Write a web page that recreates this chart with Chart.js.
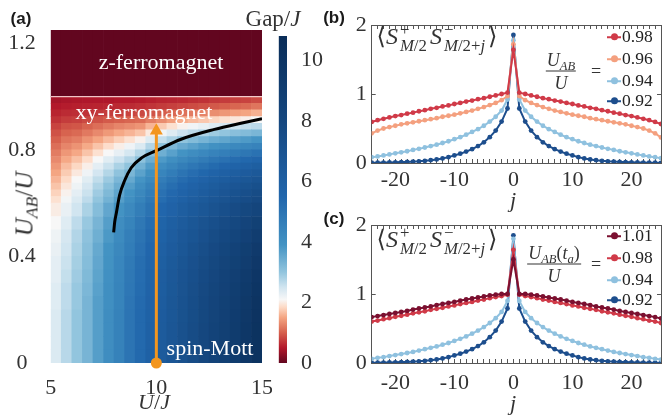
<!DOCTYPE html>
<html>
<head>
<meta charset="utf-8">
<title>Gap phase diagram and spin correlations</title>
<script src="https://cdn.jsdelivr.net/npm/chart.js@4.4.1/dist/chart.umd.min.js"></script>
<style>
  body { margin: 0; background: #fff; }
  #fig { position: relative; width: 672px; height: 418px; overflow: hidden;
         font-family: 'Liberation Serif', 'DejaVu Serif', serif; color: #333; }
  #fig canvas { position: absolute; }
  .lab { position: absolute; white-space: nowrap; line-height: 1; transform: translate(-50%, -50%); }
  .sb { font-size: 0.7em; position: relative; top: 0.3em; }
  .panel { font: bold 17px 'Liberation Sans', Arial, sans-serif; color: #1a1a1a; }
  .phase { color: #fff; font-size: 22px; }
  .stk { display: inline-flex; flex-direction: column; font-size: 0.7em; line-height: 0.95;
         vertical-align: 9px; margin: 0 3px 0 2px; }
  .frac { display: inline-flex; flex-direction: column; align-items: center; font-size: 18px; }
  .frac .num { border-bottom: 1px solid #333; padding: 0 1px 2px; }
  .frac .den { padding-top: 2px; }
  .leg { position: absolute; font-size: 17.5px; line-height: 1; color: #222; }
  .leg .row { position: absolute; left: 0; display: flex; align-items: center; transform: translateY(-50%); }
  .mk { position: relative; width: 14px; height: 2px; margin-right: 1px; }
  .mk::after { content: ''; position: absolute; left: 4px; top: -2.5px; width: 7px; height: 7px;
               border-radius: 50%; background: inherit; }
</style>
</head>
<body>
<div id="fig">
  <canvas id="heat" width="272" height="418" style="left:0;top:0"></canvas>
  <canvas id="cbar" width="60" height="418" style="left:272px;top:0"></canvas>
  <canvas id="corrB" width="342" height="210" style="left:330px;top:0"></canvas>
  <canvas id="corrC" width="342" height="208" style="left:330px;top:210px"></canvas>

  <div class="lab panel" style="left:21px;top:19px">(a)</div>
  <div class="lab panel" style="left:334px;top:18px">(b)</div>
  <div class="lab panel" style="left:334px;top:219px">(c)</div>

  <div class="lab" style="left:273px;top:18px;font-size:23px">Gap/<i>J</i></div>
  <div class="lab" style="left:24px;top:204px;font-size:25px;transform:translate(-50%,-50%) rotate(-90deg)"><i>U</i><span class="sb"><i>AB</i></span>/<i>U</i></div>
  <div class="lab" style="left:154px;top:402px;font-size:22px"><i>U</i>/<i>J</i></div>
  <div class="lab phase" style="left:161px;top:62px">z-ferromagnet</div>
  <div class="lab phase" style="left:144px;top:112px">xy-ferromagnet</div>
  <div class="lab phase" style="left:210px;top:348px">spin-Mott</div>

  <div class="lab" style="left:437px;top:38px;font-size:24px">⟨<i>S</i><span class="stk"><span>+</span><span><i>M</i>/2</span></span><i>S</i><span class="stk"><span>−</span><span><i>M</i>/2+<i>j</i></span></span>⟩</div>
  <div class="lab" style="left:561px;top:71px"><span class="frac"><span class="num"><i>U</i><span class="sb"><i>AB</i></span></span><span class="den"><i>U</i></span></span></div>
  <div class="lab" style="left:596px;top:71px;font-size:18px">=</div>
  <div class="lab" style="left:513px;top:200px;font-size:22px"><i>j</i></div>
  <div id="legB" class="leg" style="left:607px;top:0"></div>

  <div class="lab" style="left:437px;top:241px;font-size:24px">⟨<i>S</i><span class="stk"><span>+</span><span><i>M</i>/2</span></span><i>S</i><span class="stk"><span>−</span><span><i>M</i>/2+<i>j</i></span></span>⟩</div>
  <div class="lab" style="left:554px;top:264px"><span class="frac"><span class="num"><i>U</i><span class="sb"><i>AB</i></span>(<i>t</i><span class="sb"><i>a</i></span>)</span><span class="den"><i>U</i></span></span></div>
  <div class="lab" style="left:596px;top:264px;font-size:18px">=</div>
  <div class="lab" style="left:513px;top:403px;font-size:22px"><i>j</i></div>
  <div id="legC" class="leg" style="left:607px;top:210px"></div>
</div>

<script>
// ---------- panel (a): gap map ----------
// column centres in U/J and row edges in U_AB/U (finer rows where the gap closes)
const uOverJ = [5.25, 5.75, 6.25, 6.75, 7.25, 7.75, 8.25, 8.75, 9.25, 9.75,
                10.25, 10.75, 11.25, 11.75, 12.25, 12.75, 13.25, 13.75, 14.25, 14.75];
const uabEdges = [0, 0.05, 0.1, 0.15, 0.2, 0.25, 0.3, 0.35, 0.4, 0.45, 0.5, 0.55, 0.6,
                  0.625, 0.65, 0.675, 0.7, 0.725, 0.75, 0.775, 0.8, 0.825, 0.85, 0.875, 0.9, 0.925, 0.95, 0.975, 1.0];
const zFerroBand = [1.0, 1.25];
const zFerroGap = 0;

// Gap/J per column (bottom row first)
const gapCols = [
  [2.4, 2.4, 2.4, 2.4, 2.35, 2.35, 2.3, 2.3, 2.25, 2.2, 2.1, 2.0, 1.9, 1.8, 1.7, 1.6, 1.5, 1.4, 1.3, 1.2, 1.1, 1.0, 0.9, 0.8, 0.68, 0.58, 0.5, 0.42],
  [2.7, 2.7, 2.7, 2.7, 2.65, 2.65, 2.6, 2.55, 2.5, 2.45, 2.35, 2.25, 2.15, 2.05, 1.95, 1.85, 1.75, 1.65, 1.52, 1.4, 1.27, 1.15, 1.02, 0.9, 0.75, 0.63, 0.53, 0.45],
  [3.0, 3.0, 3.0, 3.0, 2.95, 2.95, 2.9, 2.85, 2.8, 2.75, 2.65, 2.5, 2.4, 2.3, 2.2, 2.1, 1.97, 1.83, 1.68, 1.52, 1.37, 1.22, 1.07, 0.93, 0.78, 0.65, 0.55, 0.47],
  [3.3, 3.3, 3.3, 3.3, 3.3, 3.25, 3.2, 3.15, 3.1, 3.05, 2.95, 2.8, 2.65, 2.55, 2.45, 2.33, 2.18, 2.02, 1.87, 1.7, 1.53, 1.36, 1.18, 1.02, 0.84, 0.68, 0.57, 0.48],
  [3.7, 3.7, 3.7, 3.7, 3.7, 3.65, 3.6, 3.55, 3.5, 3.4, 3.3, 3.15, 3.0, 2.9, 2.77, 2.63, 2.47, 2.3, 2.1, 1.9, 1.7, 1.5, 1.3, 1.1, 0.9, 0.72, 0.58, 0.48],
  [4.1, 4.1, 4.1, 4.1, 4.05, 4.05, 4.0, 3.95, 3.9, 3.8, 3.7, 3.55, 3.35, 3.22, 3.08, 2.92, 2.74, 2.55, 2.33, 2.1, 1.87, 1.64, 1.41, 1.19, 0.96, 0.75, 0.6, 0.48],
  [4.5, 4.5, 4.5, 4.5, 4.45, 4.45, 4.4, 4.35, 4.3, 4.2, 4.1, 3.9, 3.7, 3.58, 3.43, 3.25, 3.03, 2.8, 2.54, 2.27, 2.02, 1.77, 1.52, 1.27, 1.0, 0.78, 0.62, 0.5],
  [5.0, 5.0, 5.0, 5.0, 4.95, 4.9, 4.85, 4.8, 4.7, 4.6, 4.45, 4.25, 4.05, 3.9, 3.72, 3.5, 3.27, 3.02, 2.75, 2.46, 2.18, 1.9, 1.6, 1.32, 1.04, 0.8, 0.63, 0.5],
  [5.4, 5.4, 5.4, 5.4, 5.35, 5.3, 5.25, 5.2, 5.1, 5.0, 4.85, 4.65, 4.45, 4.3, 4.1, 3.88, 3.63, 3.36, 3.06, 2.74, 2.4, 2.05, 1.7, 1.38, 1.08, 0.84, 0.66, 0.52],
  [5.9, 5.9, 5.9, 5.85, 5.8, 5.75, 5.7, 5.6, 5.5, 5.4, 5.25, 5.05, 4.85, 4.7, 4.5, 4.27, 4.02, 3.74, 3.43, 3.1, 2.75, 2.37, 1.98, 1.6, 1.22, 0.92, 0.7, 0.55],
  [6.4, 6.4, 6.4, 6.35, 6.3, 6.25, 6.2, 6.1, 6.0, 5.85, 5.7, 5.5, 5.25, 5.1, 4.9, 4.67, 4.4, 4.1, 3.77, 3.4, 3.02, 2.6, 2.17, 1.74, 1.32, 0.98, 0.74, 0.58],
  [6.8, 6.8, 6.8, 6.75, 6.7, 6.65, 6.6, 6.5, 6.35, 6.2, 6.05, 5.8, 5.6, 5.42, 5.22, 4.98, 4.7, 4.38, 4.03, 3.65, 3.25, 2.82, 2.36, 1.9, 1.45, 1.06, 0.78, 0.6],
  [7.2, 7.2, 7.2, 7.15, 7.1, 7.05, 7.0, 6.9, 6.75, 6.6, 6.4, 6.15, 5.9, 5.73, 5.52, 5.28, 4.99, 4.66, 4.3, 3.9, 3.48, 3.02, 2.54, 2.05, 1.56, 1.13, 0.82, 0.62],
  [7.6, 7.6, 7.6, 7.55, 7.5, 7.45, 7.35, 7.25, 7.1, 6.9, 6.7, 6.45, 6.2, 6.02, 5.8, 5.54, 5.24, 4.9, 4.52, 4.1, 3.65, 3.17, 2.67, 2.16, 1.65, 1.2, 0.86, 0.65],
  [8.0, 8.0, 8.0, 7.95, 7.9, 7.85, 7.75, 7.6, 7.45, 7.25, 7.05, 6.75, 6.5, 6.3, 6.07, 5.8, 5.48, 5.12, 4.72, 4.28, 3.81, 3.31, 2.79, 2.26, 1.73, 1.26, 0.9, 0.68],
  [8.4, 8.4, 8.4, 8.35, 8.3, 8.2, 8.1, 7.95, 7.8, 7.6, 7.35, 7.05, 6.78, 6.58, 6.34, 6.05, 5.72, 5.34, 4.92, 4.46, 3.97, 3.45, 2.91, 2.36, 1.82, 1.33, 0.95, 0.72],
  [8.8, 8.8, 8.8, 8.75, 8.7, 8.6, 8.5, 8.35, 8.15, 7.9, 7.65, 7.35, 7.06, 6.85, 6.6, 6.3, 5.95, 5.55, 5.1, 4.62, 4.1, 3.56, 3.0, 2.44, 1.9, 1.4, 1.0, 0.75],
  [9.2, 9.2, 9.2, 9.15, 9.1, 9.0, 8.85, 8.7, 8.5, 8.25, 7.95, 7.65, 7.32, 7.1, 6.84, 6.52, 6.15, 5.73, 5.27, 4.77, 4.24, 3.68, 3.1, 2.52, 1.96, 1.45, 1.04, 0.78],
  [9.7, 9.7, 9.7, 9.65, 9.55, 9.45, 9.3, 9.1, 8.9, 8.6, 8.3, 7.95, 7.58, 7.35, 7.07, 6.74, 6.35, 5.91, 5.43, 4.91, 4.36, 3.78, 3.18, 2.6, 2.03, 1.5, 1.08, 0.8],
  [10.2, 10.2, 10.2, 10.15, 10.05, 9.95, 9.8, 9.6, 9.35, 9.05, 8.7, 8.25, 7.85, 7.6, 7.3, 6.95, 6.55, 6.1, 5.6, 5.06, 4.48, 3.88, 3.27, 2.67, 2.1, 1.58, 1.15, 0.85]
];

// black line in the map
const boundaryU   = [7.98, 8.03, 8.1, 8.26, 8.5, 8.81, 9.3, 10.0, 11.17, 12.75, 14.0, 15.0];
const boundaryUab = [0.49, 0.53, 0.56, 0.63, 0.685, 0.733, 0.77, 0.797, 0.84, 0.877, 0.90, 0.917];
// orange quench path
const quenchU = 10;
const quenchUab = [0, 0.86];
const quenchTipUab = 0.872;

const colorbarMax = 10.8;

// ---------- panels (b), (c): correlations vs |j| = 0..25 ----------
const jMin = -24, jMax = 25;
const bLabels = ['0.98', '0.96', '0.94', '0.92'];
const b098 = [1.64, 1.02, 1.0, 0.98, 0.96, 0.94, 0.925, 0.905, 0.89, 0.87, 0.855, 0.835, 0.82, 0.80, 0.785, 0.765, 0.75, 0.73, 0.715, 0.695, 0.68, 0.66, 0.64, 0.62, 0.595, 0.565];
const b096 = [1.72, 0.97, 0.91, 0.87, 0.84, 0.81, 0.785, 0.76, 0.74, 0.72, 0.70, 0.685, 0.67, 0.65, 0.635, 0.62, 0.605, 0.59, 0.575, 0.56, 0.54, 0.52, 0.50, 0.47, 0.43, 0.37];
const b094 = [1.78, 0.92, 0.76, 0.67, 0.60, 0.54, 0.49, 0.45, 0.41, 0.375, 0.345, 0.315, 0.29, 0.265, 0.245, 0.225, 0.205, 0.19, 0.17, 0.155, 0.14, 0.125, 0.11, 0.095, 0.085, 0.07];
const b092 = [1.855, 0.79, 0.60, 0.47, 0.375, 0.30, 0.245, 0.20, 0.165, 0.135, 0.11, 0.085, 0.066, 0.052, 0.041, 0.032, 0.025, 0.02, 0.016, 0.013, 0.01, 0.008, 0.006, 0.005, 0.004, 0.003];

const cLabels = ['1.01', '0.98', '0.94', '0.92'];
const c101 = [1.50, 1.0, 1.0, 0.99, 0.98, 0.965, 0.95, 0.935, 0.92, 0.905, 0.885, 0.87, 0.855, 0.84, 0.82, 0.805, 0.79, 0.775, 0.755, 0.74, 0.725, 0.71, 0.695, 0.68, 0.665, 0.645];
const c098 = [1.64, 0.99, 0.97, 0.955, 0.94, 0.92, 0.905, 0.885, 0.87, 0.855, 0.835, 0.82, 0.80, 0.785, 0.77, 0.75, 0.735, 0.72, 0.70, 0.685, 0.67, 0.65, 0.635, 0.615, 0.60, 0.58];
const c094 = [1.80, 0.90, 0.74, 0.65, 0.58, 0.52, 0.47, 0.425, 0.385, 0.35, 0.32, 0.29, 0.265, 0.24, 0.22, 0.20, 0.18, 0.16, 0.145, 0.13, 0.115, 0.10, 0.085, 0.075, 0.06, 0.05];
const c092 = [1.85, 0.79, 0.60, 0.47, 0.375, 0.30, 0.245, 0.20, 0.165, 0.135, 0.11, 0.085, 0.066, 0.052, 0.041, 0.032, 0.025, 0.02, 0.016, 0.013, 0.01, 0.008, 0.006, 0.005, 0.004, 0.003];

// ---------- styling ----------
const gapStops = [[0, '#62061f'], [0.5, '#b2182b'], [1.0, '#d6604d'], [1.5, '#f4a582'], [1.85, '#fddbc7'],
                  [2.1, '#f7f7f7'], [2.5, '#d1e5f0'], [3.0, '#92c5de'], [3.9, '#4393c3'], [5.5, '#2166ac'],
                  [8.0, '#15477f'], [10.8, '#0a2d58']];
const bColors = ['#d03a48', '#f4a07f', '#8fc1df', '#1d4e8d'];
const cColors = ['#7b1030', '#d03a48', '#8fc1df', '#1d4e8d'];
const ORANGE = '#f3961f';
const tickFont = { family: "'Liberation Serif', serif", size: 22 };
const textCol = '#333';
const frameCol = '#555';

function hexRgb(h) { return [1, 3, 5].map(i => parseInt(h.slice(i, i + 2), 16)); }
function gapColor(g) {
  if (g <= gapStops[0][0]) return gapStops[0][1];
  for (let i = 1; i < gapStops.length; i++) {
    if (g <= gapStops[i][0]) {
      const [g0, c0] = gapStops[i - 1], [g1, c1] = gapStops[i];
      const t = (g - g0) / (g1 - g0), a = hexRgb(c0), b = hexRgb(c1);
      return 'rgb(' + a.map((v, k) => Math.round(v + (b[k] - v) * t)).join(',') + ')';
    }
  }
  return gapStops[gapStops.length - 1][1];
}

const base = { responsive: false, animation: false, events: [],
               plugins: { legend: { display: false }, tooltip: { enabled: false } } };

// ---- heat map ----
const heatSets = uabEdges.slice(0, -1).map((lo, r) => ({
  type: 'bar', xAxisID: 'x', yAxisID: 'y', order: 5,
  data: uOverJ.map(() => [lo, uabEdges[r + 1]]),
  backgroundColor: gapCols.map(col => gapColor(col[r])),
  grouped: false, barPercentage: 1, categoryPercentage: 1, borderWidth: 0
}));
heatSets.push({
  type: 'bar', xAxisID: 'x', yAxisID: 'y', order: 5,
  data: uOverJ.map(() => zFerroBand.slice()),
  backgroundColor: gapColor(zFerroGap),
  grouped: false, barPercentage: 1, categoryPercentage: 1, borderWidth: 0
});
heatSets.push({
  type: 'line', xAxisID: 'xl', yAxisID: 'y', order: 2,
  data: [{ x: 5, y: zFerroBand[0] }, { x: 15, y: zFerroBand[0] }],
  borderColor: 'rgba(255,228,228,0.85)', borderWidth: 1.2, pointRadius: 0
});
heatSets.push({
  type: 'line', xAxisID: 'xl', yAxisID: 'y', order: 1,
  data: boundaryU.map((u, i) => ({ x: u, y: boundaryUab[i] })),
  borderColor: '#000', borderWidth: 3, pointRadius: 0, cubicInterpolationMode: 'monotone'
});
heatSets.push({
  type: 'line', xAxisID: 'xl', yAxisID: 'y', order: 0, clip: false,
  data: quenchUab.map(v => ({ x: quenchU, y: v })),
  borderColor: ORANGE, borderWidth: 3, pointRadius: [5.5, 0],
  pointBackgroundColor: ORANGE, pointBorderWidth: 0
});
heatSets.push({
  type: 'line', xAxisID: 'xl', yAxisID: 'y', order: 0, showLine: false,
  data: [{ x: quenchU, y: quenchTipUab }],
  pointStyle: 'triangle', pointRadius: 7.5, pointBackgroundColor: ORANGE, pointBorderWidth: 0
});

new Chart(document.getElementById('heat'), {
  type: 'bar',
  data: { labels: uOverJ.map(String), datasets: heatSets },
  options: Object.assign({}, base, {
    layout: { padding: { top: 30, right: 10, left: 0, bottom: 0 } },
    scales: {
      x: { type: 'category', display: false, offset: true },
      xl: {
        type: 'linear', position: 'bottom', min: 5, max: 15, offset: false,
        ticks: { stepSize: 5, color: textCol, font: tickFont, padding: 4, maxRotation: 0 },
        grid: { display: false, offset: false }, border: { display: false },
        afterFit: s => { s.height = 55; s.paddingLeft = 0; s.paddingRight = 0; }
      },
      y: {
        type: 'linear', min: 0, max: zFerroBand[1],
        ticks: { stepSize: 0.4, includeBounds: false, color: textCol, font: tickFont, padding: 7, crossAlign: 'center' },
        grid: { display: false }, border: { display: false },
        afterFit: s => { s.width = 50.7; s.paddingTop = 0; s.paddingBottom = 0; }
      }
    }
  })
});

// ---- colour bar ----
new Chart(document.getElementById('cbar'), {
  type: 'bar',
  data: {
    labels: [''],
    datasets: [{
      data: [[0, colorbarMax]], barPercentage: 1, categoryPercentage: 1, borderWidth: 0,
      backgroundColor: (ctx) => {
        const ca = ctx.chart.chartArea;
        if (!ca) return gapStops[5][1];
        const g = ctx.chart.ctx.createLinearGradient(0, ca.bottom, 0, ca.top);
        gapStops.forEach(([v, c]) => g.addColorStop(v / colorbarMax, c));
        return g;
      }
    }]
  },
  options: Object.assign({}, base, {
    layout: { padding: { top: 36, left: 6.7, bottom: 55, right: 0 } },
    scales: {
      x: { display: false },
      y: {
        position: 'right', min: 0, max: colorbarMax,
        ticks: { stepSize: 2, includeBounds: false, color: textCol, font: tickFont, padding: 6 },
        grid: { display: false }, border: { display: false },
        afterFit: s => { s.width = 45; s.paddingTop = 0; s.paddingBottom = 0; }
      }
    }
  })
});

// ---- correlation panels ----
function mirrored(vals) {
  const pts = [];
  for (let j = jMin; j <= jMax; j++) pts.push({ x: j, y: vals[Math.abs(j)] });
  return pts;
}
function frameAxis(pos, show, pad, extra) {
  const horiz = pos === 'top' || pos === 'bottom';
  return Object.assign({
    type: 'linear', position: pos,
    min: horiz ? jMin : 0, max: horiz ? jMax : 2,
    ticks: {
      display: show, stepSize: 1, autoSkip: false, maxRotation: 0, minRotation: 0,
      color: textCol, font: tickFont, padding: pad,
      callback: horiz ? (v => (v % 10 === 0 ? String(v) : '')) : (v => String(v))
    },
    grid: { drawOnChartArea: false, tickLength: -4, color: frameCol },
    border: { display: true, color: frameCol, width: 1 }
  }, extra);
}
function corrChart(id, values, colors, padTop, xH, xPad) {
  new Chart(document.getElementById(id), {
    type: 'line',
    data: {
      datasets: values.map((v, i) => ({
        data: mirrored(v), borderColor: colors[i], backgroundColor: colors[i],
        borderWidth: 2, pointRadius: 2.4, pointBorderWidth: 0, tension: 0
      }))
    },
    options: Object.assign({}, base, {
      layout: { padding: { top: padTop, right: 11, left: 0, bottom: 0 } },
      scales: {
        x: frameAxis('bottom', true, xPad, { afterFit: s => { s.height = xH; s.paddingLeft = 0; s.paddingRight = 0; } }),
        xTop: frameAxis('top', false, 0, { afterFit: s => { s.height = 0; } }),
        y: frameAxis('left', true, 9, { afterFit: s => { s.width = 41.7; s.paddingTop = 0; s.paddingBottom = 0; } }),
        yRight: frameAxis('right', false, 0, { afterFit: s => { s.width = 0; } })
      }
    })
  });
}
corrChart('corrB', [b098, b096, b094, b092], bColors, 25, 47, 8);
corrChart('corrC', [c101, c098, c094, c092], cColors, 15, 55, 11);

function buildLegend(elId, labels, colors, rowYs) {
  const el = document.getElementById(elId);
  labels.forEach((lab, i) => {
    const row = document.createElement('div');
    row.className = 'row';
    row.style.top = rowYs[i] + 'px';
    row.innerHTML = '<span class="mk" style="background:' + colors[i] + '"></span><span>' + lab + '</span>';
    el.appendChild(row);
  });
}
buildLegend('legB', bLabels, bColors, [37, 59, 81, 101]);
buildLegend('legC', cLabels, cColors, [26, 48, 70, 90]);
</script>
</body>
</html>
